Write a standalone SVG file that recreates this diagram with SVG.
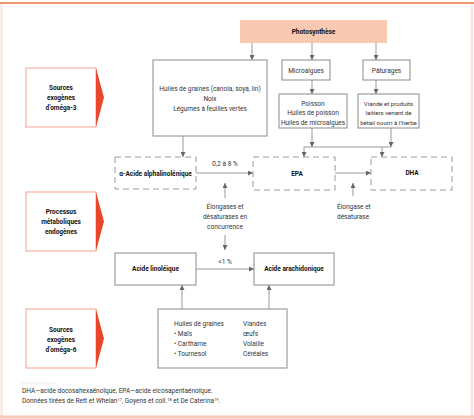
<svg xmlns="http://www.w3.org/2000/svg" width="474" height="419" viewBox="0 0 474 419">
<defs>
<marker id="ah" viewBox="0 0 6 6" refX="6" refY="3" markerWidth="5" markerHeight="5" markerUnits="userSpaceOnUse" orient="auto"><path d="M0,0 L6,3 L0,6 z" fill="#666"/></marker>
</defs>
<style>
.t{font-family:Roboto,"Liberation Sans",sans-serif;font-size:6.5px;fill:#333}
.m{text-anchor:middle}
.s{font-size:6.1px}
.b{font-weight:bold;fill:#111}
.box{fill:#fff;stroke:#8a8a8a;stroke-width:1}
.dash{fill:#fff;stroke:#9a9a9a;stroke-width:1;stroke-dasharray:6,4}
.src{fill:#fff;stroke:#f2a394;stroke-width:1}
.tri{fill:#e8472c}
.c{fill:none;stroke:#999;stroke-width:1}
.a{marker-end:url(#ah)}
</style>
<rect x="0" y="0" width="474" height="419" fill="#fff"/>
<g id="frame">
<line x1="0" y1="3" x2="474" y2="3" stroke="#ec9a76" stroke-width="2"/>
<line x1="1.5" y1="4" x2="1.5" y2="416" stroke="#fbe3dc" stroke-width="2"/>
<line x1="472" y1="4" x2="472" y2="416" stroke="#fbe3dc" stroke-width="2"/>
<line x1="0" y1="417" x2="474" y2="417" stroke="#f6c6b8" stroke-width="3"/>
</g>
<g id="connectors">
<line class="c a" x1="252" y1="43" x2="252" y2="60"/>
<line class="c a" x1="312" y1="43" x2="312" y2="60"/>
<line class="c a" x1="376" y1="43" x2="376" y2="60"/>
<line class="c a" x1="312" y1="80" x2="312" y2="94"/>
<line class="c a" x1="376" y1="80" x2="376" y2="94"/>
<line class="c a" x1="183" y1="136" x2="183" y2="157"/>
<line class="c a" x1="312" y1="128" x2="312" y2="147"/>
<line class="c a" x1="391" y1="128" x2="391" y2="147"/>
<line class="c" x1="304" y1="147" x2="391" y2="147"/>
<line class="c a" x1="304" y1="147" x2="304" y2="157"/>
<line class="c a" x1="382" y1="147" x2="382" y2="157"/>
<line class="c a" x1="196" y1="173" x2="253" y2="173"/>
<line class="c a" x1="335" y1="173" x2="371" y2="173"/>
<line class="c a" x1="225" y1="198" x2="225" y2="183"/>
<line class="c a" x1="225" y1="235" x2="225" y2="250"/>
<line class="c a" x1="353" y1="196" x2="353" y2="183"/>
<line class="c a" x1="196" y1="269" x2="254" y2="269"/>
<line class="c a" x1="182" y1="309" x2="182" y2="285"/>
<line class="c a" x1="269" y1="309" x2="269" y2="285"/>
<text class="t m" x="225" y="166">0,2 à 8 %</text>
<text class="t m" x="225" y="264">&lt;1 %</text>
<text class="t m" x="225" y="209">Élongases et</text>
<text class="t m" x="225" y="219">désaturases en</text>
<text class="t m" x="225" y="229">concurrence</text>
<text class="t" x="337" y="209">Élongase et</text>
<text class="t" x="337" y="219">désaturase</text>
</g>
<g id="src3">
<rect class="src" x="26" y="68" width="70" height="59"/>
<path class="tri" d="M96,68 L104,97.5 L96,127 z"/>
<text class="t m b" x="61" y="90">Sources</text>
<text class="t m b" x="61" y="100">exogènes</text>
<text class="t m b" x="61" y="110">d’oméga-3</text>
</g>
<g id="proc">
<rect class="src" x="26" y="192" width="70" height="59"/>
<path class="tri" d="M96,192 L104,221.5 L96,251 z"/>
<text class="t m b" x="61" y="214">Processus</text>
<text class="t m b" x="61" y="224">métaboliques</text>
<text class="t m b" x="61" y="234">endogènes</text>
</g>
<g id="src6">
<rect class="src" x="26" y="309" width="70" height="59"/>
<path class="tri" d="M96,309 L104,338.5 L96,368 z"/>
<text class="t m b" x="61" y="332">Sources</text>
<text class="t m b" x="61" y="342">exogènes</text>
<text class="t m b" x="61" y="352">d’oméga-6</text>
</g>
<g id="photo">
<rect x="240" y="20" width="147" height="23" fill="#f9c9b1"/>
<text class="t m b" x="313.5" y="34">Photosynthèse</text>
</g>
<g id="huiles">
<rect class="box" x="153" y="60" width="114" height="76"/>
<text class="t m" x="210" y="91">Huiles de graines (canola, soya, lin)</text>
<text class="t m" x="210" y="101">Noix</text>
<text class="t m" x="210" y="111">Légumes à feuilles vertes</text>
</g>
<g id="micro">
<rect class="box" x="282" y="60" width="48" height="20"/>
<text class="t m" x="306" y="72.5">Microalgues</text>
</g>
<g id="patur">
<rect class="box" x="363" y="60" width="47" height="20"/>
<text class="t m" x="386.5" y="72.5">Pâturages</text>
</g>
<g id="poisson">
<rect class="box" x="279" y="94" width="68" height="34"/>
<text class="t m" x="313" y="106">Poisson</text>
<text class="t m" x="313" y="115">Huiles de poisson</text>
<text class="t m" x="313" y="125">Huiles de microalgues</text>
</g>
<g id="viande">
<rect class="box" x="358" y="94" width="61" height="34"/>
<text class="t m s" x="388.5" y="106">Viande et produits</text>
<text class="t m s" x="388.5" y="115">laitiers venant de</text>
<text class="t m s" x="388.5" y="125">bétail nourri à l’herbe</text>
</g>
<g id="ala">
<rect class="dash" x="115" y="157" width="81" height="32"/>
<text class="t m b" x="155.5" y="175.5">α-Acide alphalinolénique</text>
</g>
<g id="epa">
<rect class="dash" x="253" y="157" width="82" height="33"/>
<text class="t m b" x="297" y="175.5">EPA</text>
</g>
<g id="dha">
<rect class="dash" x="371" y="157" width="81" height="33"/>
<text class="t m b" x="412" y="175">DHA</text>
</g>
<g id="la">
<rect class="box" x="115" y="253" width="81" height="32"/>
<text class="t m b" x="155.5" y="271">Acide linoléique</text>
</g>
<g id="aa">
<rect class="box" x="254" y="253" width="80" height="32"/>
<text class="t m b" x="294" y="271">Acide arachidonique</text>
</g>
<g id="src6box">
<rect class="box" x="158" y="309" width="129" height="59"/>
<text class="t" x="174" y="326">Huiles de graines</text>
<text class="t" x="174" y="336">• Maïs</text>
<text class="t" x="174" y="346">• Carthame</text>
<text class="t" x="174" y="356">• Tournesol</text>
<text class="t" x="243" y="326">Viandes</text>
<text class="t" x="243" y="336">œufs</text>
<text class="t" x="243" y="346">Volaille</text>
<text class="t" x="243" y="356">Céréales</text>
</g>
<g id="footnote">
<line x1="22" y1="383" x2="55" y2="383" stroke="#ddd" stroke-width="0.6"/>
<text class="t" x="22" y="393">DHA—acide docosahexaénoïque, EPA—acide eicosapentaénoïque.</text>
<text class="t" x="22" y="403">Données tirées de Rett et Whelan<tspan font-size="4" dy="-2.5">17</tspan><tspan dy="2.5">, Goyens et coll.</tspan><tspan font-size="4" dy="-2.5">18</tspan><tspan dy="2.5"> et De Caterina</tspan><tspan font-size="4" dy="-2.5">19</tspan><tspan dy="2.5">.</tspan></text>
</g>
</svg>
